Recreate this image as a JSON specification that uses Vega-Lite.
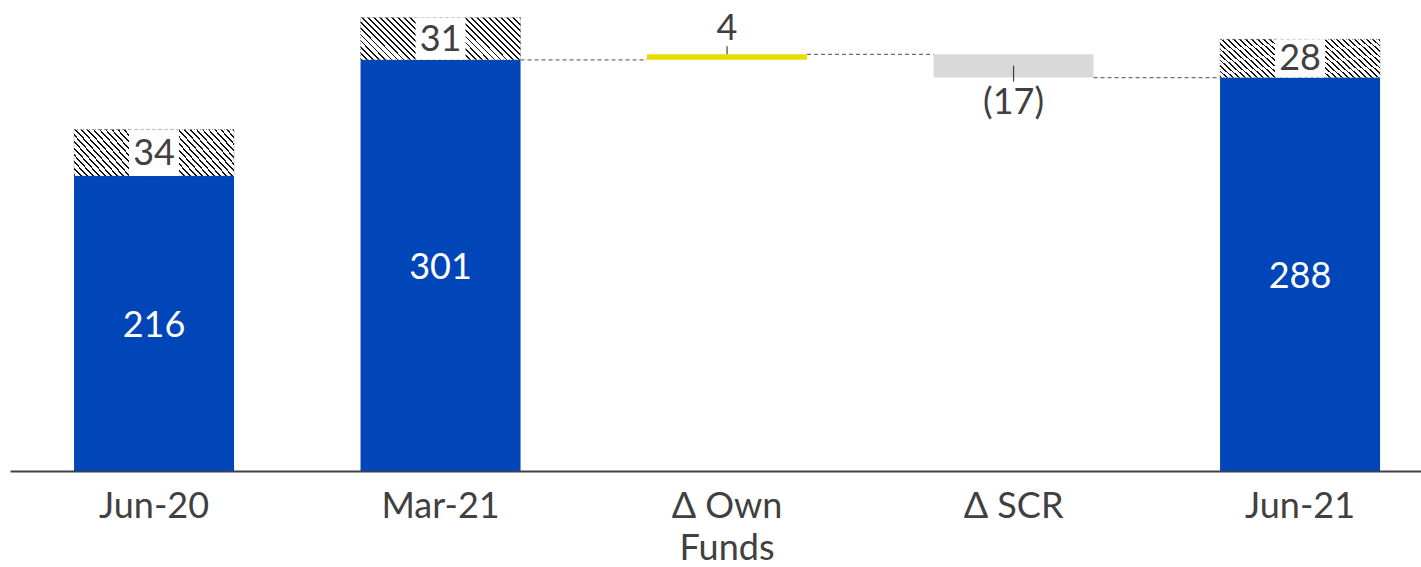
{
  "$schema": "https://vega.github.io/schema/vega-lite/v6.json",
  "autosize": "none",
  "width": 1411,
  "height": 471,
  "padding": {"left": 10, "top": 0, "right": 0, "bottom": 96},
  "background": "white",
  "config": {
    "view": {"stroke": null},
    "font": "Lato",
    "text": {"font": "Lato"},
    "axisX": {
      "domainColor": "#404040",
      "domainWidth": 2,
      "ticks": false,
      "grid": false,
      "labelFont": "Lato",
      "labelFontSize": 36,
      "labelColor": "#404040"
    }
  },
  "datasets": {
    "steps": [
      {"cat": "Jun-20", "lo": 0, "hi": 216, "kind": "total", "label": "216"},
      {"cat": "Mar-21", "lo": 0, "hi": 301, "kind": "total", "label": "301"},
      {"cat": "Δ Own Funds", "lo": 301, "hi": 305, "kind": "up", "label": "4"},
      {"cat": "Δ SCR", "lo": 288, "hi": 305, "kind": "down", "label": "(17)"},
      {"cat": "Jun-21", "lo": 0, "hi": 288, "kind": "total", "label": "288"}
    ],
    "buffer": [
      {"cat": "Jun-20", "lo": 216, "hi": 250, "label": "34"},
      {"cat": "Mar-21", "lo": 301, "hi": 332, "label": "31"},
      {"cat": "Jun-21", "lo": 288, "hi": 316, "label": "28"}
    ],
    "links": [
      {"from": "Mar-21", "to": "Δ Own Funds", "level": 301},
      {"from": "Δ Own Funds", "to": "Δ SCR", "level": 305},
      {"from": "Δ SCR", "to": "Jun-21", "level": 288}
    ],
    "notes": [
      {"cat": "Δ Own Funds", "at": 305, "label": "4", "side": "above"},
      {"cat": "Δ SCR", "at": 288, "label": "(17)", "side": "below"}
    ]
  },
  "encoding": {
    "x": {
      "field": "cat",
      "type": "nominal",
      "sort": ["Jun-20", "Mar-21", "Δ Own Funds", "Δ SCR", "Jun-21"],
      "scale": {
        "domain": ["Jun-20", "Mar-21", "Δ Own Funds", "Δ SCR", "Jun-21"],
        "paddingInner": 0.4415,
        "paddingOuter": 0.1832,
        "align": 0.61
      },
      "axis": {
        "title": null,
        "labelAngle": 0,
        "labelFont": "Lato",
        "labelFontSize": 36,
        "labelColor": "#404040",
        "labelPadding": 18,
        "labelLineHeight": 42,
        "labelExpr": "datum.label == 'Δ Own Funds' ? ['Δ Own', 'Funds'] : datum.label",
        "ticks": false,
        "domainColor": "#404040",
        "domainWidth": 2,
        "grid": false
      }
    }
  },
  "layer": [
    {
      "data": {"name": "steps"},
      "mark": {"type": "bar", "cornerRadius": 0},
      "encoding": {
        "y": {
          "field": "lo",
          "type": "quantitative",
          "scale": {"domain": [0, 344.8], "nice": false, "zero": true},
          "axis": null
        },
        "y2": {"field": "hi"},
        "fill": {
          "field": "kind",
          "type": "nominal",
          "scale": {"domain": ["total", "up", "down"], "range": ["#0046B9", "#EADB00", "#D9D9D9"]},
          "legend": null
        }
      }
    },
    {
      "data": {"name": "buffer"},
      "mark": {
        "type": "bar",
        "stroke": "#666666",
        "strokeWidth": 0.8,
        "strokeDash": [1, 2],
        "fill": {
          "gradient": "linear",
          "x1": 0, "y1": 1, "x2": 1.181, "y2": 0.69,
          "stops": [
            {"offset": 0.0, "color": "#111111"}, {"offset": 0.009, "color": "#111111"}, {"offset": 0.009, "color": "#ffffff"}, {"offset": 0.03, "color": "#ffffff"},
            {"offset": 0.03, "color": "#111111"}, {"offset": 0.039, "color": "#111111"}, {"offset": 0.039, "color": "#ffffff"}, {"offset": 0.06, "color": "#ffffff"},
            {"offset": 0.06, "color": "#111111"}, {"offset": 0.069, "color": "#111111"}, {"offset": 0.069, "color": "#ffffff"}, {"offset": 0.09, "color": "#ffffff"},
            {"offset": 0.09, "color": "#111111"}, {"offset": 0.099, "color": "#111111"}, {"offset": 0.099, "color": "#ffffff"}, {"offset": 0.12, "color": "#ffffff"},
            {"offset": 0.12, "color": "#111111"}, {"offset": 0.129, "color": "#111111"}, {"offset": 0.129, "color": "#ffffff"}, {"offset": 0.15, "color": "#ffffff"},
            {"offset": 0.15, "color": "#111111"}, {"offset": 0.159, "color": "#111111"}, {"offset": 0.159, "color": "#ffffff"}, {"offset": 0.18, "color": "#ffffff"},
            {"offset": 0.18, "color": "#111111"}, {"offset": 0.189, "color": "#111111"}, {"offset": 0.189, "color": "#ffffff"}, {"offset": 0.21, "color": "#ffffff"},
            {"offset": 0.21, "color": "#111111"}, {"offset": 0.219, "color": "#111111"}, {"offset": 0.219, "color": "#ffffff"}, {"offset": 0.24, "color": "#ffffff"},
            {"offset": 0.24, "color": "#111111"}, {"offset": 0.249, "color": "#111111"}, {"offset": 0.249, "color": "#ffffff"}, {"offset": 0.27, "color": "#ffffff"},
            {"offset": 0.27, "color": "#111111"}, {"offset": 0.279, "color": "#111111"}, {"offset": 0.279, "color": "#ffffff"}, {"offset": 0.3, "color": "#ffffff"},
            {"offset": 0.3, "color": "#111111"}, {"offset": 0.309, "color": "#111111"}, {"offset": 0.309, "color": "#ffffff"}, {"offset": 0.33, "color": "#ffffff"},
            {"offset": 0.33, "color": "#111111"}, {"offset": 0.339, "color": "#111111"}, {"offset": 0.339, "color": "#ffffff"}, {"offset": 0.36, "color": "#ffffff"},
            {"offset": 0.36, "color": "#111111"}, {"offset": 0.369, "color": "#111111"}, {"offset": 0.369, "color": "#ffffff"}, {"offset": 0.39, "color": "#ffffff"},
            {"offset": 0.39, "color": "#111111"}, {"offset": 0.399, "color": "#111111"}, {"offset": 0.399, "color": "#ffffff"}, {"offset": 0.42, "color": "#ffffff"},
            {"offset": 0.42, "color": "#111111"}, {"offset": 0.429, "color": "#111111"}, {"offset": 0.429, "color": "#ffffff"}, {"offset": 0.45, "color": "#ffffff"},
            {"offset": 0.45, "color": "#111111"}, {"offset": 0.459, "color": "#111111"}, {"offset": 0.459, "color": "#ffffff"}, {"offset": 0.48, "color": "#ffffff"},
            {"offset": 0.48, "color": "#111111"}, {"offset": 0.489, "color": "#111111"}, {"offset": 0.489, "color": "#ffffff"}, {"offset": 0.51, "color": "#ffffff"},
            {"offset": 0.51, "color": "#111111"}, {"offset": 0.519, "color": "#111111"}, {"offset": 0.519, "color": "#ffffff"}, {"offset": 0.54, "color": "#ffffff"},
            {"offset": 0.54, "color": "#111111"}, {"offset": 0.549, "color": "#111111"}, {"offset": 0.549, "color": "#ffffff"}, {"offset": 0.57, "color": "#ffffff"},
            {"offset": 0.57, "color": "#111111"}, {"offset": 0.579, "color": "#111111"}, {"offset": 0.579, "color": "#ffffff"}, {"offset": 0.6, "color": "#ffffff"},
            {"offset": 0.6, "color": "#111111"}, {"offset": 0.609, "color": "#111111"}, {"offset": 0.609, "color": "#ffffff"}, {"offset": 0.63, "color": "#ffffff"},
            {"offset": 0.63, "color": "#111111"}, {"offset": 0.639, "color": "#111111"}, {"offset": 0.639, "color": "#ffffff"}, {"offset": 0.66, "color": "#ffffff"},
            {"offset": 0.66, "color": "#111111"}, {"offset": 0.669, "color": "#111111"}, {"offset": 0.669, "color": "#ffffff"}, {"offset": 0.69, "color": "#ffffff"},
            {"offset": 0.69, "color": "#111111"}, {"offset": 0.699, "color": "#111111"}, {"offset": 0.699, "color": "#ffffff"}, {"offset": 0.72, "color": "#ffffff"},
            {"offset": 0.72, "color": "#111111"}, {"offset": 0.729, "color": "#111111"}, {"offset": 0.729, "color": "#ffffff"}, {"offset": 0.75, "color": "#ffffff"},
            {"offset": 0.75, "color": "#111111"}, {"offset": 0.759, "color": "#111111"}, {"offset": 0.759, "color": "#ffffff"}, {"offset": 0.78, "color": "#ffffff"},
            {"offset": 0.78, "color": "#111111"}, {"offset": 0.789, "color": "#111111"}, {"offset": 0.789, "color": "#ffffff"}, {"offset": 0.81, "color": "#ffffff"},
            {"offset": 0.81, "color": "#111111"}, {"offset": 0.819, "color": "#111111"}, {"offset": 0.819, "color": "#ffffff"}, {"offset": 0.84, "color": "#ffffff"},
            {"offset": 0.84, "color": "#111111"}, {"offset": 0.849, "color": "#111111"}, {"offset": 0.849, "color": "#ffffff"}, {"offset": 0.87, "color": "#ffffff"},
            {"offset": 0.87, "color": "#111111"}, {"offset": 0.879, "color": "#111111"}, {"offset": 0.879, "color": "#ffffff"}, {"offset": 0.9, "color": "#ffffff"},
            {"offset": 0.9, "color": "#111111"}, {"offset": 0.909, "color": "#111111"}, {"offset": 0.909, "color": "#ffffff"}, {"offset": 0.93, "color": "#ffffff"},
            {"offset": 0.93, "color": "#111111"}, {"offset": 0.939, "color": "#111111"}, {"offset": 0.939, "color": "#ffffff"}, {"offset": 0.96, "color": "#ffffff"},
            {"offset": 0.96, "color": "#111111"}, {"offset": 0.969, "color": "#111111"}, {"offset": 0.969, "color": "#ffffff"}, {"offset": 0.99, "color": "#ffffff"},
            {"offset": 0.99, "color": "#111111"}, {"offset": 1.0, "color": "#111111"}
          ]
        }
      },
      "encoding": {
        "y": {"field": "lo", "type": "quantitative"},
        "y2": {"field": "hi"}
      }
    },
    {
      "data": {"name": "buffer"},
      "mark": {"type": "bar", "width": 50, "fill": "white"},
      "encoding": {
        "y": {"field": "lo", "type": "quantitative"},
        "y2": {"field": "hi"}
      }
    },
    {
      "data": {"name": "buffer"},
      "transform": [{"calculate": "(datum.lo + datum.hi) / 2", "as": "mid"}],
      "mark": {"type": "text", "fontSize": 36, "color": "#404040", "baseline": "middle", "dy": 1},
      "encoding": {
        "y": {"field": "mid", "type": "quantitative"},
        "text": {"field": "label"}
      }
    },
    {
      "data": {"name": "steps"},
      "transform": [
        {"filter": "datum.kind == 'total'"},
        {"calculate": "(datum.lo + datum.hi) / 2", "as": "mid"}
      ],
      "mark": {"type": "text", "fontSize": 36, "color": "white", "baseline": "middle", "dy": 3},
      "encoding": {
        "y": {"field": "mid", "type": "quantitative"},
        "text": {"field": "label"}
      }
    },
    {
      "data": {"name": "links"},
      "mark": {"type": "rule", "stroke": "#707070", "strokeWidth": 1.2, "strokeDash": [4, 3], "xOffset": 80, "x2Offset": -80},
      "encoding": {
        "x": {"field": "from", "type": "nominal"},
        "x2": {"field": "to"},
        "y": {"field": "level", "type": "quantitative"}
      }
    },
    {
      "data": {"name": "notes"},
      "transform": [{"filter": "datum.side == 'above'"}],
      "mark": {"type": "rule", "stroke": "#404040", "strokeWidth": 1.2, "yOffset": 0, "y2Offset": -8},
      "encoding": {
        "y": {"field": "at", "type": "quantitative"},
        "y2": {"field": "at"}
      }
    },
    {
      "data": {"name": "notes"},
      "transform": [{"filter": "datum.side == 'below'"}],
      "mark": {"type": "rule", "stroke": "#404040", "strokeWidth": 1.2, "yOffset": -12, "y2Offset": 4},
      "encoding": {
        "y": {"field": "at", "type": "quantitative"},
        "y2": {"field": "at"}
      }
    },
    {
      "data": {"name": "notes"},
      "transform": [{"filter": "datum.side == 'above'"}],
      "mark": {"type": "text", "fontSize": 36, "color": "#404040", "baseline": "alphabetic", "dy": -14},
      "encoding": {
        "y": {"field": "at", "type": "quantitative"},
        "text": {"field": "label"}
      }
    },
    {
      "data": {"name": "notes"},
      "transform": [{"filter": "datum.side == 'below'"}],
      "mark": {"type": "text", "fontSize": 36, "color": "#404040", "baseline": "top", "dy": 8},
      "encoding": {
        "y": {"field": "at", "type": "quantitative"},
        "text": {"field": "label"}
      }
    }
  ]
}
